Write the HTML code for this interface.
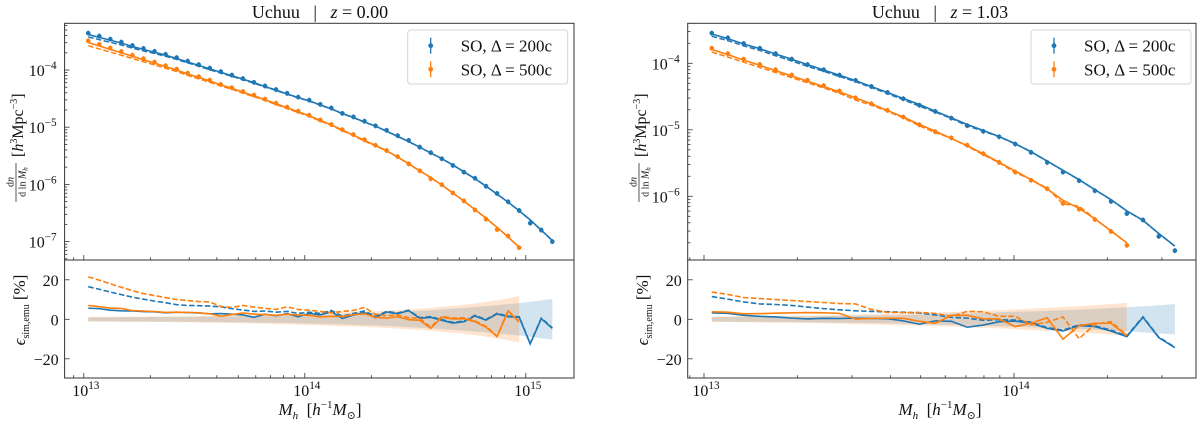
<!DOCTYPE html>
<html><head><meta charset="utf-8">
<style>
html,body{margin:0;padding:0;background:#fff;}
svg{display:block;font-family:"Liberation Serif","DejaVu Serif",serif;}
</style></head>
<body>
<svg id="fig" width="1200" height="424" viewBox="0 0 1200 424" xmlns="http://www.w3.org/2000/svg"></svg>
<script>
// ---------- LEFT PANEL (z = 0.00) DATA ----------
const L_logM = [13.02,13.07,13.12,13.17,13.22,13.27,13.32,13.37,13.42,13.47,13.52,13.57,13.62,13.67,13.72,13.77,13.82,13.87,13.92,13.97,14.02,14.07,14.12,14.17,14.22,14.27,14.32,14.37,14.42,14.47,14.52,14.57,14.62,14.67,14.72,14.77,14.82,14.87,14.92,14.97,15.02,15.07,15.12];
const L_blue_logN = [-3.38,-3.43,-3.48,-3.53,-3.59,-3.64,-3.69,-3.74,-3.80,-3.86,-3.92,-3.98,-4.04,-4.10,-4.16,-4.22,-4.29,-4.35,-4.42,-4.48,-4.54,-4.61,-4.68,-4.76,-4.83,-4.91,-4.98,-5.07,-5.16,-5.25,-5.35,-5.45,-5.55,-5.66,-5.78,-5.90,-6.03,-6.17,-6.31,-6.46,-6.62,-6.80,-6.98];
const L_blue_res = [5.6,5.4,4.6,4.3,4.2,3.9,3.8,3.3,3.6,3.4,3.2,2.8,2.9,2.6,2.2,1.0,2.6,1.8,2.9,1.3,3.0,2.2,3.8,0.4,2.2,3.4,0.8,3.7,2.8,4.4,0.5,1.0,-0.5,-1.9,-1.2,1.7,-0.4,2.7,1.3,1.0,-12.5,0.3,-4.6];
const L_blue_dres = [16.5,15.2,13.8,12.5,11.2,10.2,9.2,8.4,7.4,7.0,6.9,6.7,6.3,5.4,4.7,4.0,4.2,3.6,4.0,3.0,3.6,3.0,4.5,1.5,3.0,4.2,1.5,4.0,3.2,4.6,0.8,1.3,-0.2,-1.6,-0.9,2.0,-0.1,3.0,1.6,1.3,-12.2,0.6,-4.3];
const L_blue_band = [1.0,1.0,1.0,1.1,1.1,1.1,1.2,1.2,1.2,1.3,1.3,1.4,1.4,1.5,1.5,1.6,1.7,1.8,1.9,2.0,2.1,2.3,2.4,2.6,2.8,3.0,3.2,3.4,3.7,4.0,4.3,4.6,5.0,5.4,5.8,6.2,6.7,7.2,7.7,8.2,8.9,9.6,10.3];
const L_orange_logN = [-3.52,-3.58,-3.64,-3.70,-3.76,-3.82,-3.88,-3.94,-4.00,-4.07,-4.13,-4.19,-4.26,-4.32,-4.39,-4.45,-4.52,-4.59,-4.66,-4.73,-4.80,-4.88,-4.96,-5.05,-5.14,-5.23,-5.32,-5.41,-5.52,-5.64,-5.76,-5.88,-6.01,-6.15,-6.29,-6.44,-6.59,-6.75,-6.92,-7.10];
const L_orange_res = [7.0,6.4,5.7,5.5,4.4,4.2,3.9,3.5,3.6,3.5,3.3,2.8,1.6,2.4,3.2,2.6,2.4,2.0,2.6,2.2,2.0,1.2,1.5,1.4,2.4,2.8,1.0,0.6,1.3,-0.2,-0.5,-4.6,1.0,0.2,0.3,-1.2,-4.0,-8.8,4.2,-1.4];
const L_orange_dres = [21.5,19.8,18.0,16.2,14.5,13.0,12.0,11.0,10.0,9.5,9.0,8.8,6.5,6.0,7.0,6.2,5.5,5.0,6.3,5.0,4.6,4.0,3.3,4.0,4.5,6.0,2.5,1.8,2.2,0.8,0.5,-4.0,1.5,0.6,0.8,-0.8,-3.6,-8.5,4.4,-1.2];
const L_orange_band = [1.2,1.2,1.2,1.3,1.3,1.3,1.4,1.4,1.5,1.5,1.6,1.7,1.8,1.9,2.0,2.1,2.2,2.4,2.5,2.7,2.9,3.1,3.3,3.5,3.7,3.9,4.1,4.4,4.7,5.0,5.4,5.8,6.3,6.8,7.4,8.0,8.8,9.6,10.6,11.8];

// ---------- RIGHT PANEL (z = 1.03) DATA ----------
const R_logM = [13.025,13.077,13.128,13.180,13.231,13.283,13.334,13.386,13.437,13.489,13.540,13.592,13.643,13.695,13.746,13.798,13.849,13.901,13.952,14.004,14.055,14.107,14.158,14.210,14.261,14.313,14.364,14.416,14.467,14.519];
const R_blue_logN = [-3.56,-3.63,-3.71,-3.78,-3.86,-3.94,-4.02,-4.10,-4.18,-4.26,-4.35,-4.44,-4.53,-4.62,-4.72,-4.82,-4.92,-5.01,-5.10,-5.21,-5.33,-5.47,-5.61,-5.75,-5.90,-6.05,-6.22,-6.36,-6.56,-6.75];
const R_blue_res = [3.2,3.0,2.0,1.5,1.2,0.6,0.2,0.5,0.4,0.6,0.4,0.3,-0.8,-2.5,-0.8,-1.0,-4.0,-2.9,-1.2,-0.9,-2.0,-4.6,-5.9,-3.2,-3.7,-6.0,-8.8,1.0,-9.3,-14.4];
const R_blue_dres = [11.5,10.2,8.8,7.8,7.5,7.0,6.2,5.4,4.8,4.3,4.0,3.8,3.6,3.2,2.2,1.0,0.6,-0.5,-0.2,-0.4,-1.5,-4.2,-5.5,-2.8,-3.3,-5.5,-8.4,1.3,-9.0,-14.1];
const R_blue_band = [1.2,1.2,1.3,1.3,1.4,1.4,1.5,1.6,1.7,1.8,1.9,2.0,2.2,2.4,2.6,2.8,3.0,3.2,3.5,3.8,4.0,4.3,4.6,4.9,5.3,5.7,6.1,6.6,7.1,7.7];
const R_orange_logN = [-3.79,-3.87,-3.95,-4.03,-4.11,-4.19,-4.27,-4.35,-4.43,-4.52,-4.61,-4.71,-4.81,-4.92,-5.02,-5.13,-5.24,-5.36,-5.49,-5.62,-5.75,-5.89,-6.06,-6.18,-6.34,-6.52,-6.70];
const R_orange_res = [3.8,3.6,2.8,2.9,3.1,3.3,3.4,3.3,3.0,0.1,0.4,0.6,0.5,-1.0,-2.0,2.0,2.0,0.2,0.2,-3.7,-2.0,0.8,-10.1,-3.2,-2.0,-2.0,-8.3];
const R_orange_dres = [13.8,12.6,11.0,10.5,10.0,9.5,9.0,8.5,8.0,7.8,5.0,3.5,3.4,3.5,3.0,1.5,4.0,3.8,1.5,1.5,-2.8,-1.5,1.2,-9.8,-2.5,-1.2,-8.0];
const R_orange_band = [1.3,1.4,1.5,1.6,1.7,1.8,1.9,2.0,2.2,2.4,2.6,2.8,3.0,3.2,3.4,3.7,4.0,4.3,4.6,5.0,5.4,5.8,6.2,6.7,7.2,7.7,8.3];

const L_xticks = [13,14,15];
const R_xticks = [13,14];
const L_yticks = [-4,-5,-6,-7];
const R_yticks = [-4,-5,-6];
const resTicks = [20,0,-20];

const BLUE = '#1f77b4', ORANGE = '#ff7f0e';
const NS = 'http://www.w3.org/2000/svg';
const svg = document.getElementById('fig');

function mk(tag, attrs, parent) {
  const e = document.createElementNS(NS, tag);
  for (const k in attrs) e.setAttribute(k, attrs[k]);
  (parent || svg).appendChild(e);
  return e;
}
function sci(g, x, y, exp, anchor, size) {
  const t = mk('text', {x: x, y: y, 'text-anchor': anchor, 'font-size': size, fill: '#111'}, g);
  const a = document.createElementNS(NS, 'tspan'); a.textContent = '10'; t.appendChild(a);
  const b = document.createElementNS(NS, 'tspan'); b.setAttribute('dy', -7); b.setAttribute('font-size', size * 0.7); b.textContent = exp; t.appendChild(b);
  return t;
}
function linePath(xs, ys) {
  return xs.map((x, i) => (i ? 'L' : 'M') + x.toFixed(2) + ',' + ys[i].toFixed(2)).join(' ');
}

function panel(P) {
  const g = mk('g', {});
  
  
  const X = m => P.x0 + (m - 13) * P.dec;
  const Y = l => P.y4 + (-4 - l) * P.ydec;
  const R = v => 319.3 - v * 39.5 / 20;
  const top = 23.3, mid = 260, bot = 378;

  const cid = P.name + '-clipT', rid = P.name + '-clipR';
  const defs = mk('defs', {}, g);
  const c1 = mk('clipPath', {id: cid}, defs); mk('rect', {x: P.left, y: top, width: P.right - P.left, height: mid - top}, c1);
  const c2 = mk('clipPath', {id: rid}, defs); mk('rect', {x: P.left, y: mid, width: P.right - P.left, height: bot - mid}, c2);

  const rg = mk('g', {'clip-path': 'url(#' + rid + ')'}, g);
  [[P.mB, P.bandB, BLUE, 'blue'], [P.mO, P.bandO, ORANGE, 'orange']].forEach(([ms, band, col, nm]) => {
    const xs = ms.map(X);
    const up = band.map(b => R(b)), dn = band.map(b => R(-b));
    let d = linePath(xs, up) + ' ' + xs.slice().reverse().map((x, i) => 'L' + x.toFixed(2) + ',' + dn.slice().reverse()[i].toFixed(2)).join(' ') + ' Z';
    const p = mk('path', {d: d, fill: col, 'fill-opacity': 0.2, stroke: 'none'}, rg);
    
    
  });
  [[P.mB, P.resB, P.dresB, BLUE, 'blue'], [P.mO, P.resO, P.dresO, ORANGE, 'orange']].forEach(([ms, rs, ds, col, nm]) => {
    const xs = ms.map(X);
    const pd = mk('path', {d: linePath(xs, ds.map(R)), fill: 'none', stroke: col, 'stroke-width': 1.6, 'stroke-dasharray': '5.5,2.4'}, rg);
    
    
    const ps = mk('path', {d: linePath(xs, rs.map(R)), fill: 'none', stroke: col, 'stroke-width': 1.6}, rg);
    
    
  });

  const tg = mk('g', {'clip-path': 'url(#' + cid + ')'}, g);
  [[P.mB, P.nB, P.resB, P.dresB, BLUE, 'blue'], [P.mO, P.nO, P.resO, P.dresO, ORANGE, 'orange']].forEach(([ms, ns, rs, ds, col, nm]) => {
    const xs = ms.map(X);
    const solid = ns.map(Y);
    const dashed = ns.map((n, i) => Y(n + Math.log10((1 + rs[i] / 100) / (1 + ds[i] / 100))));
    const pd = mk('path', {d: linePath(xs, dashed), fill: 'none', stroke: col, 'stroke-width': 1.5, 'stroke-dasharray': '5.5,2.4'}, tg);
    
    
    const ps = mk('path', {d: linePath(xs, solid), fill: 'none', stroke: col, 'stroke-width': 1.6}, tg);
    
    
    ns.forEach((n, i) => {
      const cy = Y(n + Math.log10(1 + rs[i] / 100));
      const err = mk('line', {x1: xs[i], x2: xs[i], y1: cy - 2.5, y2: cy + 2.5, stroke: col, 'stroke-width': 1.2}, tg);
      
      
      const c = mk('circle', {cx: xs[i], cy: cy, r: 2.3, fill: col}, tg);
      
      
    });
  });

  const f1 = mk('rect', {x: P.left, y: top, width: P.right - P.left, height: mid - top, fill: 'none', stroke: '#333', 'stroke-width': 1}, g);
  
  
  const f2 = mk('rect', {x: P.left, y: mid, width: P.right - P.left, height: bot - mid, fill: 'none', stroke: '#333', 'stroke-width': 1}, g);
  
  

  for (let dcd = 12; dcd <= 15; dcd++) {
    for (let k = 1; k <= 9; k++) {
      const x = X(dcd + Math.log10(k));
      if (x < P.left || x > P.right) continue;
      const len = k === 1 ? 5 : 2.8;
      [mid, bot].forEach(yb => mk('line', {x1: x, x2: x, y1: yb, y2: yb - len, stroke: '#333', 'stroke-width': 0.8}, g));
    }
  }
  P.xt.forEach(e => {
    const t = sci(g, X(e) + 2, 396, String(e), 'middle', 16);
    
    
  });
  for (let dcd = -8; dcd <= -3; dcd++) {
    for (let k = 1; k <= 9; k++) {
      const y = Y(dcd + Math.log10(k));
      if (y < top || y > mid) continue;
      const len = k === 1 ? 5 : 2.8;
      mk('line', {x1: P.left, x2: P.left + len, y1: y, y2: y, stroke: '#333', 'stroke-width': 0.8}, g);
    }
  }
  P.yt.forEach(e => {
    const t = sci(g, P.left - 8, Y(e) + 6, '−' + (-e), 'end', 16);
    
    
  });
  resTicks.forEach(v => {
    mk('line', {x1: P.left, x2: P.left + 5, y1: R(v), y2: R(v), stroke: '#333', 'stroke-width': 0.8}, g);
    const t = mk('text', {x: P.left - 6, y: R(v) + 6, 'text-anchor': 'end', 'font-size': 16, fill: '#111'}, g);
    t.textContent = v < 0 ? '−' + (-v) : String(v);
    
    
  });

  const tt = mk('text', {x: P.tx, y: 18, 'text-anchor': 'middle', 'font-size': 18, fill: '#111'}, g);
  tt.innerHTML = 'Uchuu &#160;&#160;|&#160;&#160; <tspan font-style="italic">z</tspan> = ' + P.z;
  
  

  const xl = mk('text', {x: P.tx, y: 415, 'text-anchor': 'middle', 'font-size': 17, fill: '#111'}, g);
  xl.innerHTML = '<tspan font-style="italic">M</tspan><tspan font-size="11" dy="4" font-style="italic">h</tspan><tspan dy="-4"> &#160;[</tspan><tspan font-style="italic">h</tspan><tspan font-size="11" dy="-7">−1</tspan><tspan dy="7" font-style="italic">M</tspan><tspan font-size="11" dy="4">⊙</tspan><tspan dy="-4">]</tspan>';
  
  

  // y label top (rotated)
  const yl = mk('g', {transform: 'translate(' + P.ylx + ',145) rotate(-90)'}, g);
  
  
  const yt1 = mk('text', {x: -37, y: -4.5, 'text-anchor': 'middle', 'font-size': 10, fill: '#111'}, yl);
  yt1.innerHTML = 'd<tspan font-style="italic">n</tspan>';
  mk('line', {x1: -57, x2: -18, y1: -2, y2: -2, stroke: '#111', 'stroke-width': 0.7}, yl);
  const yt2 = mk('text', {x: -37, y: 7.5, 'text-anchor': 'middle', 'font-size': 10, fill: '#111'}, yl);
  yt2.innerHTML = 'd ln <tspan font-style="italic">M</tspan><tspan font-size="7" dy="2" font-style="italic">h</tspan>';
  const yt3 = mk('text', {x: -12, y: 5, 'font-size': 16, fill: '#111'}, yl);
  yt3.innerHTML = '[<tspan font-style="italic">h</tspan><tspan font-size="10" dy="-6">3</tspan><tspan dy="6">Mpc</tspan><tspan font-size="10" dy="-6">−3</tspan><tspan dy="6">]</tspan>';

  const rl = mk('text', {transform: 'translate(' + (P.ylx + 7) + ',310) rotate(-90)', 'text-anchor': 'middle', 'font-size': 17, fill: '#111'}, g);
  rl.innerHTML = '<tspan font-style="italic">ϵ</tspan><tspan font-size="10" dy="4">sim,emu</tspan><tspan dy="-4"> [%]</tspan>';
  
  

  const lg = mk('g', {}, g);
  
  
  mk('rect', {x: P.lgx, y: 30, width: 160, height: 54, rx: 3, fill: '#fff', 'fill-opacity': 0.85, stroke: '#d4d4d4', 'stroke-width': 1}, lg);
  [['200c', BLUE, 45.7, 'legend-entry-200c'], ['500c', ORANGE, 69.3, 'legend-entry-500c']].forEach(([lab, col, y, nm]) => {
    const e = mk('g', {}, lg);
    
    
    mk('line', {x1: P.lgx + 23, x2: P.lgx + 23, y1: y - 8, y2: y + 8, stroke: col, 'stroke-width': 1.3}, e);
    mk('circle', {cx: P.lgx + 23, cy: y, r: 2.4, fill: col}, e);
    const t = mk('text', {x: P.lgx + 53, y: y + 6, 'font-size': 17, fill: '#111'}, e);
    t.textContent = 'SO, Δ = ' + lab;
  });
}

panel({name: 'panel-z0', left: 64.6, right: 574, x0: 83.8, dec: 221, y4: 70, ydec: 57.2,
  mB: L_logM, nB: L_blue_logN, resB: L_blue_res, dresB: L_blue_dres, bandB: L_blue_band,
  mO: L_logM.slice(0, L_orange_logN.length), nO: L_orange_logN, resO: L_orange_res, dresO: L_orange_dres, bandO: L_orange_band,
  xt: L_xticks, yt: L_yticks, tx: 320, z: '0.00', ylx: 18, lgx: 407.7});

panel({name: 'panel-z1', left: 687.7, right: 1196, x0: 704, dec: 310, y4: 63.3, ydec: 66.5,
  mB: R_logM, nB: R_blue_logN, resB: R_blue_res, dresB: R_blue_dres, bandB: R_blue_band,
  mO: R_logM.slice(0, R_orange_logN.length), nO: R_orange_logN, resO: R_orange_res, dresO: R_orange_dres, bandO: R_orange_band,
  xt: R_xticks, yt: R_yticks, tx: 940, z: '1.03', ylx: 641, lgx: 1031});
</script>
</body></html>
